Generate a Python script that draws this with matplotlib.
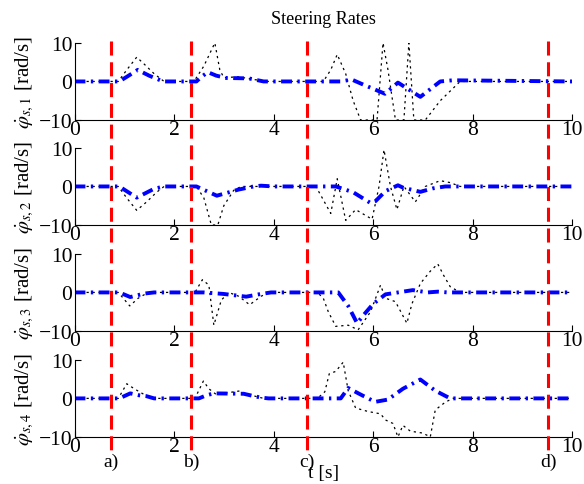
import matplotlib
matplotlib.use("Agg")
import matplotlib.pyplot as plt
from matplotlib.lines import Line2D
from matplotlib.transforms import blended_transform_factory

plt.rcParams['font.family'] = ['Liberation Serif', 'DejaVu Serif']
plt.rcParams['mathtext.fontset'] = 'stix'

# event times (red dashed markers) and their labels
event_t = [0.73, 2.34, 4.68, 9.52]
event_labels = ['a)', 'b)', 'c)', 'd)']

# --- wheel 1 ---
t_ref1 = [0, 0.9, 1.05, 1.27, 1.5, 1.78, 2.45, 2.55, 2.68, 2.85, 3.05, 3.5, 3.8,
          5.35, 5.57, 5.8, 6.24, 6.5, 6.95, 7.35, 7.6, 10]
w_ref1 = [0, 0, 1.2, 3.0, 1.5, 0, 0, 1.2, 2.4, 1.5, 0.9, 0.8, 0,
          0, 0.5, -0.8, -3.2, -0.3, -4.0, 0, 0.3, 0]
t_act1 = [0, 0.88, 1.05, 1.25, 1.4, 1.6, 1.8, 2.4, 2.6, 2.82, 2.92, 3.0, 3.3, 3.6, 3.9,
          5.0, 5.15, 5.28, 5.45, 5.6, 5.75, 6.08, 6.2, 6.3, 6.45, 6.62, 6.72, 6.82,
          7.05, 7.35, 7.75, 10]
w_act1 = [0, 0, 3, 6.3, 4.5, 2, 0, 0, 4, 10, 3, 1, 1.2, 0.5, 0,
          0, 3, 7, 2, -5, -10, -10, 10, 3, -10, -10, 10, -10,
          -10, -5, 0, 0]

# --- wheel 2 ---
t_ref2 = [0, 0.9, 1.25, 1.6, 1.8, 2.45, 2.86, 3.3, 3.6, 3.75, 4.0,
          5.25, 5.6, 5.95, 6.05, 6.25, 6.5, 6.6, 6.95, 7.2, 7.45, 10]
w_ref2 = [0, 0, -2.9, -0.6, 0, 0, -2.4, -0.8, 0, 0.2, 0,
          0, -1.5, -4.3, -3.8, -1.2, 0.3, -0.3, -1.4, -0.5, 0, 0]
t_act2 = [0, 0.88, 1.05, 1.25, 1.45, 1.65, 1.8, 2.45, 2.6, 2.75, 2.88, 3.0, 3.2, 3.35,
          4.85, 4.98, 5.15, 5.28, 5.45, 5.65, 5.98, 6.12, 6.22, 6.35, 6.48, 6.62,
          6.85, 7.05, 7.35, 7.55, 7.75, 10]
w_act2 = [0, 0, -3, -6.2, -4, -1.5, 0, 0, -3, -10, -10, -5, -1, 0,
          0, -3, -7, 2, -8.8, -6, -8.5, 0, 9.5, 0, -6, 0,
          -4, 0, 1.5, 1, 0, 0]

# --- wheel 3 ---
t_ref3 = [0, 0.9, 1.12, 1.4, 1.6, 2.6, 3.0, 3.45, 3.7, 3.95,
          5.3, 5.5, 5.68, 5.8, 6.0, 6.25, 6.8, 7.1, 7.3, 7.5, 10]
w_ref3 = [0, 0, -1.2, -0.3, 0, 0, -0.4, -1.1, -0.5, 0,
          0, -3.5, -8, -6, -3, -0.5, 0.6, 0, 0.2, 0, 0]
t_act3 = [0, 0.88, 1.11, 1.28, 1.44, 1.6, 2.42, 2.57, 2.7, 2.8, 2.95, 3.1, 3.3, 3.52,
          3.75, 3.9, 4.88, 5.0, 5.1, 5.25, 5.5, 5.7, 5.95, 6.15, 6.25, 6.45, 6.68,
          6.78, 6.95, 7.15, 7.3, 7.42, 7.55, 7.75, 10]
w_act3 = [0, 0, -3.5, -1.5, -0.3, 0, 0, 3.3, 1.9, -8.5, -2, 0, -1, -3.2,
          -1, 0, 0, -1.5, -5, -8.8, -8.5, -9.7, -5, 1.9, -1.5, -2.4, -8,
          -3, 2.3, 5.5, 7.4, 4.4, 1.5, 0, 0]

# --- wheel 4 ---
t_ref4 = [0, 0.9, 1.12, 1.3, 1.44, 1.6, 2.5, 2.65, 2.8, 3.4, 3.6, 3.75, 3.9,
          5.35, 5.5, 5.75, 6.04, 6.3, 6.6, 6.95, 7.25, 7.55, 10]
w_ref4 = [0, 0, 1.3, 0.8, 0.6, 0, 0, 0.8, 1.3, 1.2, 0.6, 0.2, 0,
          0, 2.7, 1.0, -0.9, -0.3, 2.5, 4.9, 2.0, 0, 0]
t_act4 = [0, 0.88, 1.05, 1.2, 1.4, 1.6, 2.42, 2.59, 2.7, 2.85, 3.3, 3.5, 3.8,
          4.88, 5.03, 5.12, 5.25, 5.4, 5.5, 5.65, 5.9, 6.15, 6.25, 6.4, 6.5, 6.6,
          6.75, 7.0, 7.15, 7.25, 7.45, 7.6, 10]
w_act4 = [0, 0, 3.8, 2.5, 1, 0, 0, 4.5, 2.5, 1, 1.9, 1, 0,
          0, 1.7, 6.4, 7, 9.4, 2, -2.5, -3.4, -4, -5.6, -6.5, -10, -7,
          -8.5, -9, -10, -3, -1, 0, 0]

series = [(t_ref1, w_ref1, t_act1, w_act1),
          (t_ref2, w_ref2, t_act2, w_act2),
          (t_ref3, w_ref3, t_act3, w_act3),
          (t_ref4, w_ref4, t_act4, w_act4)]

fig = plt.figure(figsize=(5.84, 4.85), dpi=100)
left, width, height = 0.1276, 0.852, 0.159
bottoms = [0.7505, 0.534, 0.3155, 0.097]

axes = []
for i, (tr, wr, ta, wa) in enumerate(series):
    ax = fig.add_axes([left, bottoms[i], width, height])
    ax.plot(ta, wa, color='black', lw=0.9, linestyle=(0, (1.8, 3.0)))
    ax.plot(tr, wr, color='blue', lw=2.8, linestyle=(0, (2.8, 1.4, 0.6, 1.4)))
    ax.set_xlim(0, 10)
    ax.set_ylim(-10, 10)
    ax.set_xticks([0, 2, 4, 6, 8, 10])
    ax.set_yticks([-10, 0, 10])
    ax.spines['top'].set_visible(False)
    ax.spines['right'].set_visible(False)
    ax.tick_params(direction='in', length=4, labelsize=15.5, pad=1.5)
    ax.tick_params(axis='x', pad=0)
    ax.set_ylabel(r'$\dot{\varphi}_{s,%d}$ [rad/s]' % (i + 1), fontsize=15, labelpad=2)
    axes.append(ax)

axes[0].set_title('Steering Rates', fontsize=13, pad=14)
axes[-1].set_xlabel('t [s]', fontsize=14, labelpad=6)

# red dashed event markers across all panels
trans = blended_transform_factory(axes[0].transData, fig.transFigure)
for t, lab in zip(event_t, event_labels):
    fig.add_artist(Line2D([t, t], [0.913, 0.062], transform=trans, color='red',
                          lw=2.2, linestyle=(0, (4.6, 2.2))))
    fig.text(t, 0.047, lab, transform=trans, ha='center', va='center', fontsize=14)

fig.savefig('out.png', dpi=100)
